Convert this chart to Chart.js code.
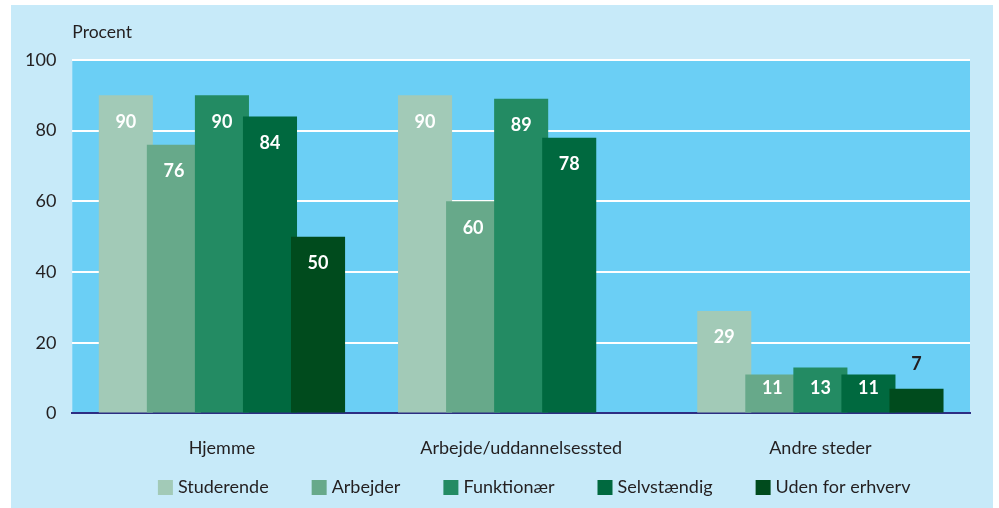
<!DOCTYPE html>
<html>
<head>
<meta charset="utf-8">
<script src="https://cdn.jsdelivr.net/npm/chart.js@4"></script>
<style>
  html, body { margin: 0; padding: 0; background: #ffffff; }
  #wrap { width: 999px; height: 508px; position: relative; }
</style>
</head>
<body>
<div id="wrap"><canvas id="c"></canvas></div>
<script>
const categories = ['Hjemme', 'Arbejde/uddannelsessted', 'Andre steder'];
const seriesNames = ['Studerende', 'Arbejder', 'Funktionær', 'Selvstændig', 'Uden for erhverv'];
const studerende = [90, 90, 29];
const arbejder = [76, 60, 11];
const funktionaer = [90, 89, 13];
const selvstaendig = [84, 78, 11];
const udenForErhverv = [50, null, 7];
const yTicks = [0, 20, 40, 60, 80, 100];
const yTitle = 'Procent';

const seriesValues = [studerende, arbejder, funktionaer, selvstaendig, udenForErhverv];
const seriesColors = ['#a2cab7', '#67a98a', '#238b63', '#00693f', '#004b1d'];

const FONT = 'Lato, "Noto Sans", sans-serif';
const TEXT = '#231f20';

const bgPlugin = {
  id: 'bg',
  beforeDraw(chart) {
    const ctx = chart.ctx, a = chart.chartArea;
    ctx.save();
    ctx.fillStyle = '#c7eaf9';
    ctx.fillRect(11, 5, 982, 503);
    ctx.fillStyle = '#6bcff5';
    ctx.fillRect(a.left, a.top, a.right - a.left, a.bottom - a.top);
    ctx.fillStyle = TEXT;
    ctx.font = '17.5px ' + FONT;
    ctx.textAlign = 'left';
    ctx.textBaseline = 'middle';
    ctx.fillText(yTitle, a.left, 32);
    ctx.restore();
  }
};

// draw datasets first-to-last so later series overlap earlier ones
const orderPlugin = {
  id: 'drawOrder',
  beforeDatasetsDraw(chart) {
    const metas = chart.getSortedVisibleDatasetMetas();
    for (let i = 0; i < metas.length; i++) chart._drawDataset(metas[i]);
    return false;
  }
};

const labelPlugin = {
  id: 'vals',
  afterDraw(chart) {
    const ctx = chart.ctx;
    ctx.save();
    ctx.font = 'bold 18px ' + FONT;
    ctx.textAlign = 'center';
    ctx.textBaseline = 'middle';
    chart.data.datasets.forEach((ds, i) => {
      const meta = chart.getDatasetMeta(i);
      meta.data.forEach((bar, j) => {
        const v = ds.data[j];
        if (v === null || v === undefined) return;
        const top = bar.y, base = bar.base;
        const h = base - top;
        if (h < 32) {
          ctx.fillStyle = TEXT;
          ctx.fillText(String(v), bar.x, top - 24);
        } else {
          ctx.fillStyle = '#ffffff';
          ctx.fillText(String(v), bar.x, Math.min(top + 26.5, base - 24));
        }
      });
    });
    ctx.restore();
  }
};

const legendPlugin = {
  id: 'customLegend',
  afterDraw(chart) {
    const ctx = chart.ctx, a = chart.chartArea;
    ctx.save();
    ctx.font = '18px ' + FONT;
    ctx.textBaseline = 'middle';
    ctx.textAlign = 'left';
    const box = 15, gapText = 5, gapItem = 43;
    const items = chart.data.datasets.map(ds => ({ label: ds.label, color: ds.backgroundColor, w: ctx.measureText(ds.label).width }));
    const total = items.reduce((s, it) => s + box + gapText + it.w, 0) + gapItem * (items.length - 1);
    let x = (a.left + a.right) / 2 + 13 - total / 2;
    const y = 487.5;
    items.forEach(it => {
      ctx.fillStyle = it.color;
      ctx.fillRect(x, y - box / 2, box, box);
      ctx.fillStyle = TEXT;
      ctx.fillText(it.label, x + box + gapText, y);
      x += box + gapText + it.w + gapItem;
    });
    ctx.restore();
  }
};

new Chart(document.getElementById('c'), {
  type: 'bar',
  data: {
    labels: categories,
    datasets: seriesNames.map((name, i) => ({
      label: name,
      data: seriesValues[i],
      backgroundColor: seriesColors[i],
      borderWidth: 0,
      barPercentage: 1.125,
      categoryPercentage: 0.803
    }))
  },
  options: {
    responsive: true,
    maintainAspectRatio: false,
    animation: false,
    devicePixelRatio: 1,
    layout: { padding: { top: 60, left: 9, right: 29, bottom: 25 } },
    plugins: { legend: { display: false }, tooltip: { enabled: false } },
    scales: {
      x: {
        grid: { display: false, drawTicks: false },
        border: { display: true, color: '#2d2e83', width: 2 },
        ticks: { color: TEXT, font: { family: FONT, size: 18 }, padding: 24 }
      },
      y: {
        min: 0, max: 100,
        afterBuildTicks(scale) { scale.ticks = yTicks.map(v => ({ value: v })); },
        grid: {
          drawTicks: false,
          color: ctx => (ctx.tick && ctx.tick.value === 0) ? 'rgba(0,0,0,0)' : '#ffffff',
          lineWidth: 2
        },
        border: { display: false },
        ticks: { color: TEXT, font: { family: FONT, size: 18 }, padding: 16 }
      }
    }
  },
  plugins: [bgPlugin, orderPlugin, labelPlugin, legendPlugin]
});
</script>
</body>
</html>
